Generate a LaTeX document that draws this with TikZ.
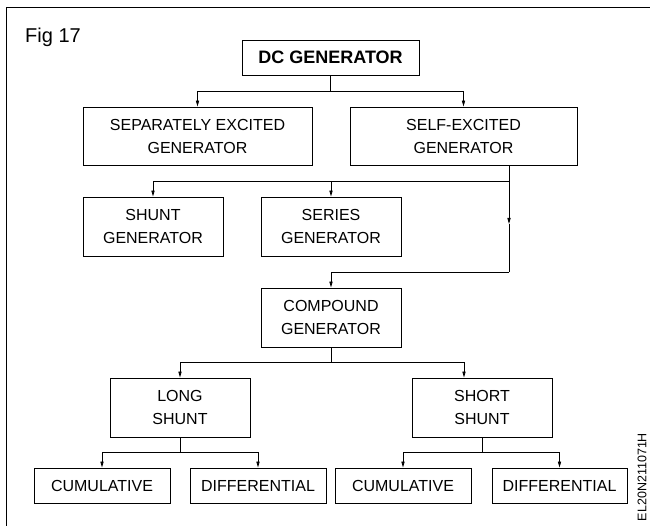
\documentclass[tikz,border=0pt]{standalone}
\usepackage{fontspec}
\setmainfont{Liberation Sans}
\usetikzlibrary{arrows.meta}
\begin{document}
\begin{tikzpicture}[x=1pt,y=-1pt,
  box/.style={draw,line width=0.9pt,inner sep=0pt,align=center,font=\fontsize{16}{23}\selectfont},
  conn/.style={line width=0.8pt},
  arr/.style={line width=0.8pt,-{Triangle[length=6pt,width=3.2pt]}}]
\useasboundingbox (0,0) rectangle (650,526);
\draw[line width=0.9pt] (650,7) -- (6,7) -- (6,526);
\node[anchor=base west,inner sep=0pt,font=\fontsize{20}{20}\selectfont] (fig) at (25,43) {Fig 17};
% nodes
\node[box,minimum width=177pt,minimum height=35pt,font=\bfseries\fontsize{18}{20}\selectfont] (dc) at (330.5,57.5) {DC GENERATOR};
\node[box,minimum width=229pt,minimum height=58pt] (sep) at (197.5,136) {SEPARATELY EXCITED\\GENERATOR};
\node[box,minimum width=227pt,minimum height=58pt] (self) at (463.5,136) {SELF-EXCITED\\GENERATOR};
\node[box,minimum width=140pt,minimum height=59pt] (shunt) at (153,226.5) {SHUNT\\GENERATOR};
\node[box,minimum width=140pt,minimum height=59pt] (series) at (331,226.5) {SERIES\\GENERATOR};
\node[box,minimum width=140pt,minimum height=59pt] (comp) at (331,317.5) {COMPOUND\\GENERATOR};
\node[box,minimum width=140pt,minimum height=59pt] (long) at (180,407.5) {LONG\\SHUNT};
\node[box,minimum width=140pt,minimum height=59pt] (short) at (482,407.5) {SHORT\\SHUNT};
\node[box,minimum width=136pt,minimum height=35pt] (cum1) at (102,485.5) {CUMULATIVE};
\node[box,minimum width=136pt,minimum height=35pt] (diff1) at (258,485.5) {DIFFERENTIAL};
\node[box,minimum width=136pt,minimum height=35pt] (cum2) at (403,485.5) {CUMULATIVE};
\node[box,minimum width=135pt,minimum height=35pt] (diff2) at (559.5,485.5) {DIFFERENTIAL};
\node[rotate=90,inner sep=0pt,font=\fontsize{12.5}{13}\selectfont] (wm) at (642,477) {EL20N211071H};
% connectors
\draw[conn] (dc.south) -- ++(0,16) coordinate (j1);
\draw[arr] (j1) -| (sep.north);
\draw[arr] (j1) -| (self.north);
\coordinate (j2) at (509,181);
\coordinate (m2) at (509,224);
\coordinate (j3) at (509,272);
\draw[arr] (self.south -| j2) -- (m2);
\draw[conn] (m2) -- (j3);
\draw[arr] (j2) -| (shunt.north);
\draw[arr] (j2) -| (series.north);
\draw[arr] (j3) -| (comp.north);
\draw[conn] (comp.south) -- ++(0,15) coordinate (j4);
\draw[arr] (j4) -| (long.north);
\draw[arr] (j4) -| ([xshift=-18pt]short.north);
\draw[conn] (long.south) -- ++(0,15) coordinate (j5);
\draw[arr] (j5) -| (cum1.north);
\draw[arr] (j5) -| (diff1.north);
\draw[conn] (short.south) -- ++(0,15) coordinate (j6);
\draw[arr] (j6) -| (cum2.north);
\draw[arr] (j6) -| (diff2.north);
\end{tikzpicture}
\end{document}
